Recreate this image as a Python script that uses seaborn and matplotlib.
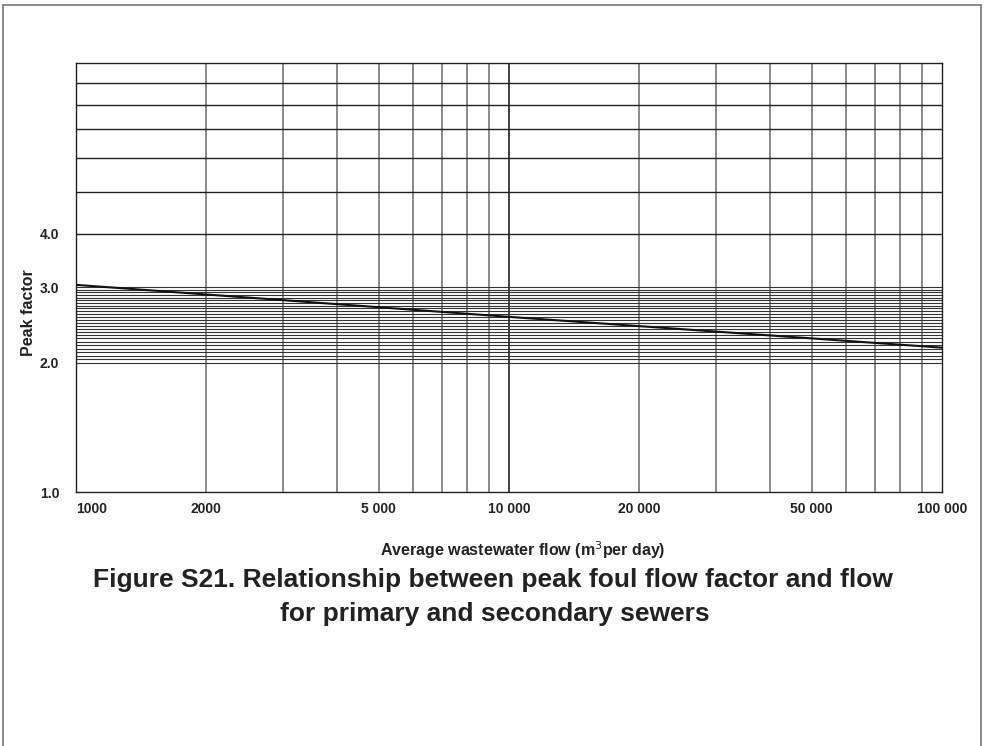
import numpy as np
import pandas as pd
import matplotlib
matplotlib.use("Agg")
import matplotlib.pyplot as plt
from matplotlib.lines import Line2D
import seaborn as sns

# values
flow = [1000, 10000, 100000]
peak = [3.04, 2.56, 2.17]

x_ticks = [1000, 2000, 5000, 10000, 20000, 50000, 100000]
x_labels = ["1000", "2000", "5 000", "10 000", "20 000", "50 000", "100 000"]
x_grid = [2000, 3000, 4000, 5000, 6000, 7000, 8000, 9000,
          20000, 30000, 40000, 50000, 60000, 70000, 80000, 90000]
y_ticks = [1.0, 2.0, 3.0, 4.0]
y_labels = ["1.0", "2.0", "3.0", "4.0"]
y_grid_coarse = [4, 5, 6, 7, 8, 9]
y_grid_fine = [round(2.0 + 0.04 * i, 2) for i in range(26)]

sns.set_style("white")
plt.rcParams["font.family"] = ["Liberation Sans", "DejaVu Sans"]
plt.rcParams["font.stretch"] = "normal"

df = pd.DataFrame({"flow": flow, "peak": peak})

fig = plt.figure(figsize=(9.85, 7.46), dpi=100)
ax = fig.add_axes([76 / 985, 1 - 492 / 746, (942 - 76) / 985, (492 - 63) / 746])

ax.set_xscale("log")
ax.set_yscale("log")
ax.set_xlim(1000, 100000)
ax.set_ylim(1.0, 10.0)

# graph paper grid
for xv in x_grid:
    ax.axvline(xv, color="#6a6a6a", lw=1.1, zorder=1)
ax.axvline(10000, color="#222222", lw=1.2, zorder=1)
for yv in y_grid_coarse:
    ax.axhline(yv, color="#222222", lw=1.0, zorder=1)
for yv in y_grid_fine:
    ax.axhline(yv, color="#333333", lw=0.8, zorder=1)

sns.lineplot(data=df, x="flow", y="peak", color="#111111", lw=1.5, ax=ax, zorder=3)

tick_kw = dict(fontsize=10, fontweight="bold", color="#222222",
               family="Liberation Sans", fontstretch="normal")
ax.set_xticks(x_ticks)
ax.set_xticklabels(x_labels, **tick_kw)
ax.set_xticks([], minor=True)
ax.set_yticks(y_ticks)
ax.set_yticklabels(y_labels, **tick_kw)
ax.set_yticks([], minor=True)
ax.tick_params(axis="x", length=0, pad=7)
ax.tick_params(axis="y", length=0, pad=12)
ax.get_xticklabels()[0].set_horizontalalignment("left")

for sp in ax.spines.values():
    sp.set_color("#222222")
    sp.set_linewidth(1.0)

label_kw = dict(fontsize=11.5, fontweight="bold", color="#222222",
                family="Liberation Sans", fontstretch="normal")
ax.set_xlabel("Average wastewater flow (m$^3$per day)", **label_kw)
ax.xaxis.set_label_coords((523 - 76) / (942 - 76), -(539 - 492) / (492 - 63))
ax.set_ylabel("Peak factor", **label_kw)
ax.yaxis.set_label_coords(-(76 - 36) / (942 - 76), (492 - 313) / (492 - 63))

title_kw = dict(ha="center", va="center", fontsize=19, fontweight="bold",
                family="Liberation Sans", fontstretch="condensed", color="#222222")
fig.text(493 / 985, 1 - 580 / 746,
         "Figure S21. Relationship between peak foul flow factor and flow", **title_kw)
fig.text(495 / 985, 1 - 614 / 746, "for primary and secondary sewers", **title_kw)

# page frame
frame_kw = dict(color="#777777", lw=1.2, transform=fig.transFigure)
fig.add_artist(Line2D([3 / 985, 981 / 985], [1 - 5 / 746, 1 - 5 / 746], **frame_kw))
fig.add_artist(Line2D([3 / 985, 3 / 985], [0, 1 - 5 / 746], **frame_kw))
fig.add_artist(Line2D([981 / 985, 981 / 985], [0, 1 - 5 / 746], **frame_kw))

fig.savefig("out.png", dpi=100)
